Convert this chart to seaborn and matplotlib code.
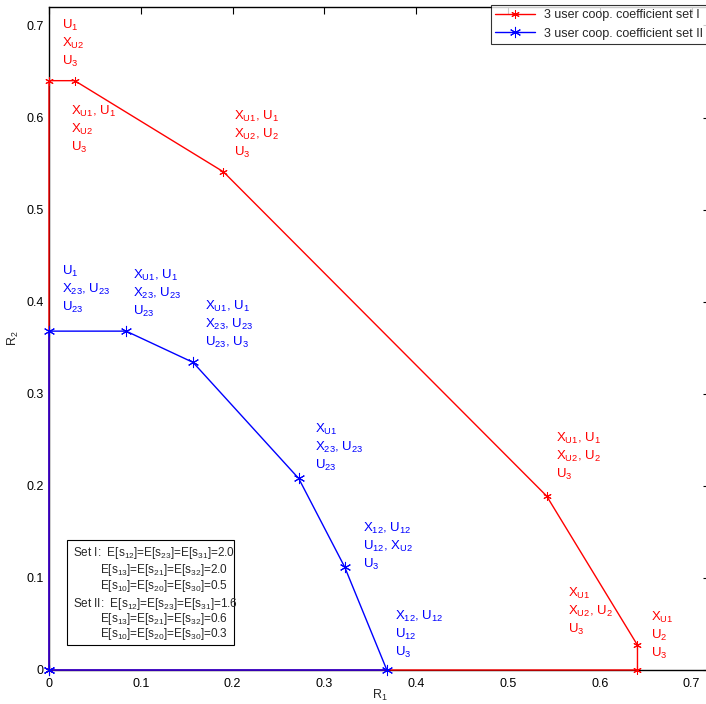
import numpy as np
import pandas as pd
import seaborn as sns
import matplotlib.pyplot as plt
from matplotlib.patches import Rectangle

# rate region corner points, set I (red) and set II (blue)
r1_set1 = [0.0, 0.0, 0.028, 0.19, 0.542, 0.641, 0.641, 0.0]
r2_set1 = [0.0, 0.64, 0.64, 0.541, 0.189, 0.027, 0.0, 0.0]
r1_set2 = [0.0, 0.0, 0.084, 0.157, 0.272, 0.322, 0.368, 0.0]
r2_set2 = [0.0, 0.368, 0.368, 0.334, 0.208, 0.112, 0.0, 0.0]

labels_set1 = [
    'U$_1$\nX$_{U2}$\nU$_3$',
    'X$_{U1}$, U$_1$\nX$_{U2}$\nU$_3$',
    'X$_{U1}$, U$_1$\nX$_{U2}$, U$_2$\nU$_3$',
    'X$_{U1}$, U$_1$\nX$_{U2}$, U$_2$\nU$_3$',
    'X$_{U1}$\nX$_{U2}$, U$_2$\nU$_3$',
    'X$_{U1}$\nU$_2$\nU$_3$',
]
labels_set2 = [
    'U$_1$\nX$_{23}$, U$_{23}$\nU$_{23}$',
    'X$_{U1}$, U$_1$\nX$_{23}$, U$_{23}$\nU$_{23}$',
    'X$_{U1}$, U$_1$\nX$_{23}$, U$_{23}$\nU$_{23}$, U$_3$',
    'X$_{U1}$\nX$_{23}$, U$_{23}$\nU$_{23}$',
    'X$_{12}$, U$_{12}$\nU$_{12}$, X$_{U2}$\nU$_3$',
    'X$_{12}$, U$_{12}$\nU$_{12}$\nU$_3$',
]

box_lines = [
    'Set I:  E[s$_{12}$]=E[s$_{23}$]=E[s$_{31}$]=2.0',
    'E[s$_{13}$]=E[s$_{21}$]=E[s$_{32}$]=2.0',
    'E[s$_{10}$]=E[s$_{20}$]=E[s$_{30}$]=0.5',
    'Set II:  E[s$_{12}$]=E[s$_{23}$]=E[s$_{31}$]=1.6',
    'E[s$_{13}$]=E[s$_{21}$]=E[s$_{32}$]=0.6',
    'E[s$_{10}$]=E[s$_{20}$]=E[s$_{30}$]=0.3',
]

sns.set_theme(style='white')
plt.rcParams['font.family'] = ['Liberation Sans', 'DejaVu Sans']
plt.rcParams['mathtext.default'] = 'regular'

W, H = 706, 704
fig = plt.figure(figsize=(W / 100, H / 100), dpi=100)
ax = fig.add_axes([49 / W, 34 / H, 661 / W, 663 / H])


def px(x, y):
    # pixel position in the picture -> data coords
    return (x - 49) / 918.0, (670 - y) / 921.0


asterisk = (6, 2, 0)
sns.lineplot(x=r1_set1, y=r2_set1, sort=False, estimator=None, color='red',
             marker=asterisk, markersize=6, markeredgecolor='red', linewidth=1,
             label='3 user coop. coefficient set I', ax=ax)
sns.lineplot(x=r1_set2, y=r2_set2, sort=False, estimator=None, color='blue',
             marker=asterisk, markersize=8, markeredgecolor='blue', linewidth=1,
             label='3 user coop. coefficient set II', ax=ax)
for ln in ax.lines:
    ln.set_clip_on(False)
    ln.set_zorder(3)

ax.set_xlim(0, 0.72)
ax.set_ylim(0, 0.72)
ax.set_xticks([0, 0.1, 0.2, 0.3, 0.4, 0.5, 0.6, 0.7])
ax.set_yticks([0, 0.1, 0.2, 0.3, 0.4, 0.5, 0.6, 0.7])
ax.set_xticklabels(['0', '0.1', '0.2', '0.3', '0.4', '0.5', '0.6', '0.7'])
ax.set_yticklabels(['0', '0.1', '0.2', '0.3', '0.4', '0.5', '0.6', '0.7'])
ax.tick_params(direction='in', length=5, width=0.8, top=True, right=True,
               labelsize=9, colors='black')
ax.tick_params(axis='x', pad=6)
ax.tick_params(axis='y', pad=4)
for s in ax.spines.values():
    s.set_color('black')
    s.set_linewidth(1.0)
    s.set_zorder(2)
ax.set_xlabel('R$_1$', fontsize=9, labelpad=-2)
ax.set_ylabel('R$_2$', fontsize=9, labelpad=4)

# annotation positions (top-left of text, in pixels)
pos_set1 = [(62, 22), (71, 108), (234, 113), (556, 435), (568, 590), (651, 614)]
pos_set2 = [(62, 268), (133, 272), (205, 303), (315, 426), (363, 525), (395, 613)]
for (x, y), t in zip(pos_set1, labels_set1):
    ax.text(*px(x, y - 4), t, color='red', fontsize=9.5, va='top', ha='left',
            linespacing=1.25)
for (x, y), t in zip(pos_set2, labels_set2):
    ax.text(*px(x, y - 4), t, color='blue', fontsize=9.5, va='top', ha='left',
            linespacing=1.25)

# parameter box
bx0, by0 = px(67, 645)
bx1, by1 = px(234, 540)
ax.add_patch(Rectangle((bx0, by0), bx1 - bx0, by1 - by0, facecolor='white',
                       edgecolor='black', linewidth=0.8, zorder=4))
line_x = [73, 100, 100, 73, 100, 100]
line_y = [553, 570, 586, 604, 619, 634]
for lx, ly, t in zip(line_x, line_y, box_lines):
    ax.text(*px(lx, ly), t, fontsize=8.5, va='center', ha='left', zorder=5)

leg = ax.legend(loc='upper right', fontsize=9.0, frameon=True, fancybox=False,
                borderaxespad=0.0, handlelength=3.2, handletextpad=0.7,
                borderpad=0.35, labelspacing=0.5,
                bbox_to_anchor=(1 - 3 / 661, 1 + 2 / 663))
leg.get_frame().set_edgecolor('black')
leg.get_frame().set_linewidth(0.8)
leg.set_zorder(6)

fig.savefig('out.png', dpi=100)
